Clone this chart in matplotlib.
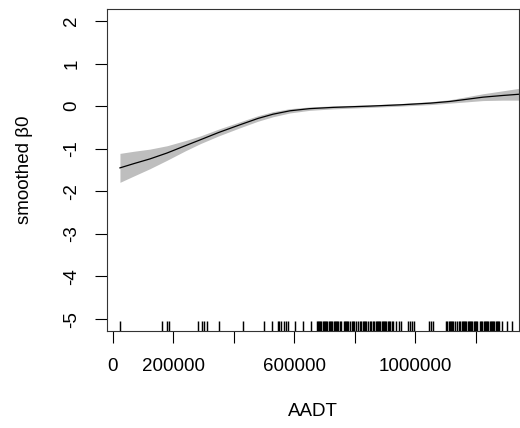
import numpy as np
import matplotlib.pyplot as plt
import matplotlib.transforms as mtransforms

# smooth term estimate (AADT in thousands)
aadt_k = [24, 70, 123, 180, 240, 290, 350, 420, 480, 530, 586, 650, 728, 850,
          950, 1050, 1115, 1170, 1224, 1290, 1346]
fit = [-1.45, -1.35, -1.24, -1.10, -0.93, -0.79, -0.62, -0.44, -0.29, -0.19, -0.11,
       -0.06, -0.03, 0.00, 0.03, 0.07, 0.11, 0.16, 0.21, 0.25, 0.28]
half_width = [0.34, 0.29, 0.23, 0.17, 0.12, 0.09, 0.08, 0.07, 0.065, 0.06, 0.05,
              0.04, 0.035, 0.03, 0.03, 0.035, 0.04, 0.06, 0.08, 0.11, 0.14]

# observed AADT values for the rug (thousands)
rug_k = [24, 162, 179, 187, 283, 294, 302, 311, 352, 432, 501, 528, 546, 551, 556,
         566, 573, 580, 603, 630, 656,
         674, 678, 682, 686, 690, 694, 698, 702, 706, 710, 714, 718, 722, 726, 730,
         734, 738, 742, 746, 750, 754,
         763, 767, 771, 775, 779, 786, 791, 795, 799, 803, 811, 818,
         822, 826, 830, 834, 837, 844, 851, 855, 859,
         865, 869, 873, 877, 881, 885, 889, 893, 897, 901, 905, 909, 913, 917,
         922, 928, 937, 945, 953, 976, 982, 989, 996, 1044, 1051, 1059,
         1102, 1106, 1110, 1114, 1118, 1122, 1125, 1132, 1138,
         1145, 1149, 1153, 1157, 1161, 1165, 1169, 1173, 1177, 1181, 1185, 1189,
         1193, 1197, 1201, 1205, 1213,
         1218, 1222, 1226, 1230, 1234, 1238, 1242, 1246, 1250, 1254, 1258, 1262,
         1266, 1270, 1274, 1278, 1286, 1303, 1320]

xticks = [0, 200000, 400000, 600000, 800000, 1000000, 1200000]
xticklabels = ['0', '200000', '', '600000', '', '1000000', '']
yticks = [-5, -4, -3, -2, -1, 0, 1, 2]

plt.rcParams['font.family'] = ['Liberation Sans', 'DejaVu Sans']

x = np.array(aadt_k) * 1000
f = np.array(fit)
hw = np.array(half_width)
rug = np.array(rug_k) * 1000

fig = plt.figure(figsize=(5.2, 4.28), dpi=100)
ax = fig.add_axes([107 / 520, 1 - 331 / 428, 412 / 520, 322 / 428])

ax.fill_between(x, f - hw, f + hw, color='#bebebe', lw=0)
ax.plot(x, f, color='black', lw=0.9)

trans = mtransforms.blended_transform_factory(ax.transData, ax.transAxes)
ax.vlines(rug, 0, 0.03, transform=trans, color='black', lw=1.05)

ax.set_xlim(-18800, 1343000)
ax.set_ylim(-5.28, 2.28)
ax.set_xticks(xticks)
ax.set_xticklabels(xticklabels)
ax.set_yticks(yticks)
ax.set_yticklabels([str(v) for v in yticks], rotation=90, va='center')

ax.tick_params(direction='out', length=8.3, width=0.8, labelsize=13.5, pad=11)
for sp in ax.spines.values():
    sp.set_linewidth(0.8)
    sp.set_color('#333333')

ax.set_xlabel('AADT', fontsize=13.5, labelpad=20)
ax.set_ylabel('smoothed β0', fontsize=13.5, labelpad=22)

fig.savefig('out.png', dpi=100)
